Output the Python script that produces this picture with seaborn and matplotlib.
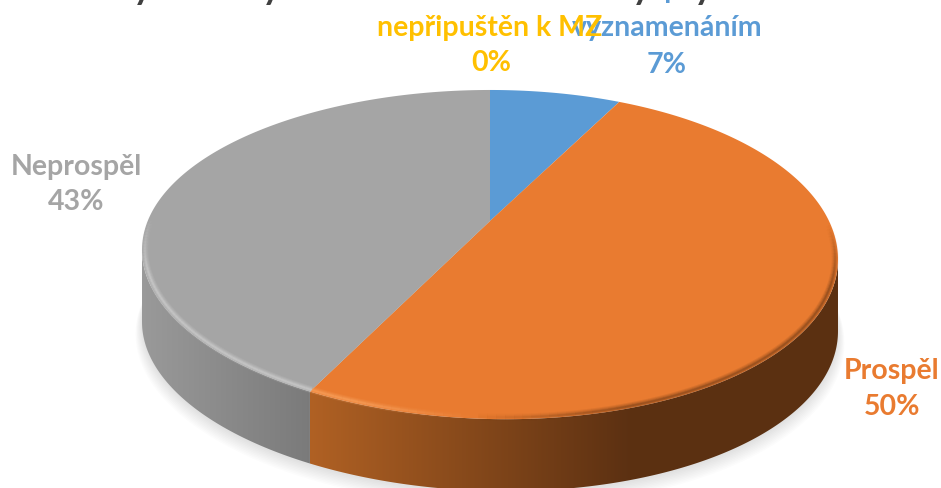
import matplotlib.pyplot as plt
import numpy as np
import seaborn as sns
from matplotlib.collections import LineCollection
from matplotlib.colors import to_rgb
from matplotlib.patches import Polygon

# slices clockwise from 12 o'clock, shown rounded in the labels
categories = ["Prospěl s vyznamenáním", "Prospěl", "Neprospěl", "nepřipuštěn k MZ"]
shares = [7.4, 49.7, 42.9, 0.0]
percent_labels = ["7%", "50%", "43%", "0%"]
slice_colors = ["#5B9BD5", "#E97B30", "#A5A5A5", "#FFC000"]

# descenders of the title, cut off by the top edge
title_tail_x = [142, 271, 641, 703]

W, H = 941, 489
CX, CY = 490, 222
RX, RY, K = 340.7, 157.7, 0.2036
DEPTH = 72
SKEW = 0.022


def project(theta, radius=1.0, drop=0.0):
    # theta in radians clockwise from the back of the pie, seen in perspective
    u = radius * np.sin(theta)
    v = -radius * np.cos(theta)
    w = 1 - K * v
    x = CX + RX * u / w
    y = CY + RY * v / w + SKEW * (x - CX) * (v + 1) / 2
    return x, y + drop


def mix(c, other, t):
    c, other = np.array(c), np.array(other)
    return c + (other - c) * t


def side_color(name, x):
    if name == slice_colors[1]:
        t = np.clip((x - 310) / 320, 0, 1)
        return mix((0.69, 0.38, 0.14), (0.36, 0.19, 0.07), t)
    if name == slice_colors[2]:
        t = np.clip((x - 145) / 165, 0, 1)
        return mix((0.60, 0.60, 0.60), (0.48, 0.48, 0.48), t)
    return np.array(to_rgb(name))


def rim_color(name, x):
    # highlight on the lit side, dark blur on the far right
    if name == slice_colors[2]:
        return (0.84, 0.84, 0.84, 0.85)
    if x < 480:
        return (0.99, 0.66, 0.40, 0.85 * np.clip((480 - x) / 120, 0, 1))
    return (0.40, 0.21, 0.08, 0.75 * np.clip((x - 480) / 150, 0, 1))


sns.set_theme(style="white")
plt.rcParams["font.family"] = ["Lato", "DejaVu Sans"]
fig = plt.figure(figsize=(W / 100, H / 100), dpi=100)
ax = fig.add_axes([0, 0, 1, 1])
ax.axis("off")

# soft shadow under the pie
t_all = np.linspace(0, 2 * np.pi, 361)
for i in range(10):
    sx, sy = project(t_all, 1 + 0.002 * i, DEPTH + 2 + i)
    ax.fill(sx, sy, color="k", alpha=0.012, lw=0, zorder=1)

edges = np.cumsum([0] + shares) / 100 * 2 * np.pi

# side wall: a horizontal gradient clipped to the visible band of each slice
xs = np.arange(W)
for name, start, end in zip(slice_colors, edges[:-1], edges[1:]):
    t = np.linspace(start, end, 600)
    t = t[np.cos(t) < -K]
    if len(t) < 2:
        continue
    x0, y0 = project(t)
    x1, y1 = project(t[::-1], drop=DEPTH)
    band = Polygon(np.c_[np.r_[x0, x1], np.r_[y0, y1]], transform=ax.transData, fc="none", lw=0)
    ax.add_patch(band)
    grad = np.array([side_color(name, x) for x in xs])[np.newaxis, :, :]
    im = ax.imshow(grad, extent=(0, W, H, 0), aspect="auto", zorder=2)
    im.set_clip_path(band)

ax.set_xlim(0, W)
ax.set_ylim(H, 0)

# top surface
for name, start, end in zip(slice_colors, edges[:-1], edges[1:]):
    if end <= start:
        continue
    t = np.linspace(start, end, 200)
    x, y = project(t)
    ax.fill(np.r_[CX, x], np.r_[CY, y], color=name, lw=0, zorder=3)

# bevel along the front rim, a few widths stacked to look blurred
for name, start, end in zip(slice_colors, edges[:-1], edges[1:]):
    if end <= start:
        continue
    t = np.linspace(start, end, 150)
    t = t[np.cos(t) < 0.05]
    if len(t) < 2:
        continue
    x, y = project(t, 0.992)
    segs = [[(x[i], y[i]), (x[i + 1], y[i + 1])] for i in range(len(t) - 1)]
    front = np.clip(-np.cos(t[:-1]) / 0.35, 0, 1)
    colors = np.array([rim_color(name, xi) for xi in x[:-1]])
    for lw, strength in [(7, 0.16), (5, 0.22), (3, 0.3), (1.5, 0.35)]:
        rgba = colors.copy()
        rgba[:, 3] = colors[:, 3] * strength * front
        ax.add_collection(LineCollection(segs, colors=rgba, linewidths=lw * 0.72,
                                         capstyle="butt", zorder=4))

# labels
font = dict(fontweight="bold", fontsize=20.5, ha="center", va="center", zorder=6)
ax.text(667, 28, "vyznamenáním", color=slice_colors[0], **font)
ax.text(665, -2, "Prospěl s", color=slice_colors[0], fontweight="bold", fontsize=20.5,
        ha="center", va="baseline", zorder=6)
ax.text(667, 65, percent_labels[0], color=slice_colors[0], **font)
ax.text(490, 28, categories[3], color=slice_colors[3], **font)
ax.text(491, 63, percent_labels[3], color=slice_colors[3], **font)
ax.text(76, 167, categories[2], color=slice_colors[2], **font)
ax.text(76, 202, percent_labels[2], color=slice_colors[2], **font)
ax.text(892, 371, categories[1], color=slice_colors[1], **font)
ax.text(892, 407, percent_labels[1], color=slice_colors[1], **font)

for x in title_tail_x:
    ax.text(x, -1, "y", color="#404040", fontweight="bold", fontsize=26,
            ha="center", va="baseline", zorder=7)

fig.savefig("out.png", dpi=100)
